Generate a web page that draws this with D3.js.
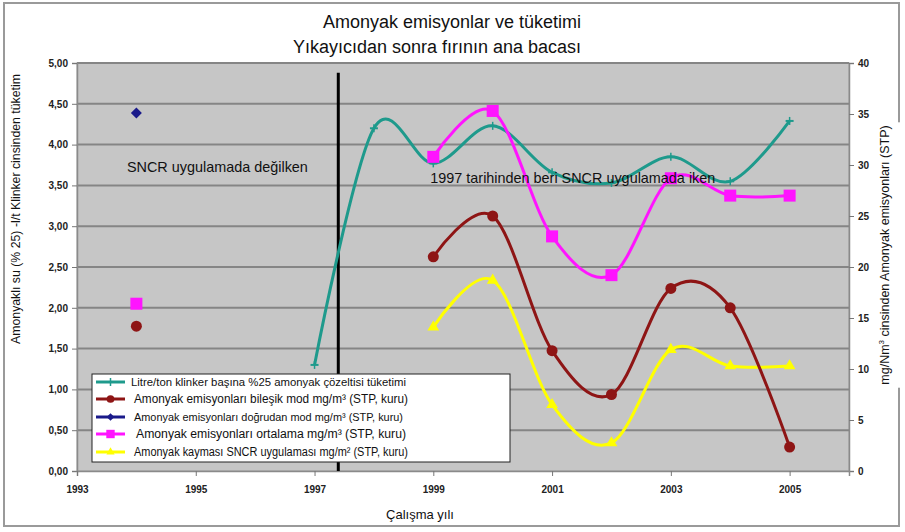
<!DOCTYPE html>
<html>
<head>
<meta charset="utf-8">
<script src="https://cdn.jsdelivr.net/npm/d3@7/dist/d3.min.js"></script>
<style>
  html, body { margin: 0; padding: 0; background: #fff; }
  svg { display: block; }
  text { font-family: "Liberation Sans", Arial, sans-serif; }
</style>
</head>
<body>
<svg id="chart" width="905" height="532"></svg>
<script>
// ---------- DATA ----------
const years = [1994, 1997, 1998, 1999, 2000, 2001, 2002, 2003, 2004, 2005];
// left axis (l/t klinker)
const tuketim   = [null, 1.30, 4.20, 3.77, 4.23, 3.66, 3.53, 3.85, 3.55, 4.29];
// right axis (mg/Nm3)
const bilesik   = [14.2, null, null, 21.0, 25.0, 11.8, 7.5, 17.9, 16.0, 2.35];
const dogrudan  = [35.1, null, null, null, null, null, null, null, null, null];
const ortalama  = [16.4, null, null, 30.8, 35.3, 23.0, 19.2, 28.7, 27.0, 27.0];
const kayma     = [null, null, null, 14.1, 18.7, 6.5, 2.75, 11.9, 10.3, 10.3];

const xTicks = [1993, 1995, 1997, 1999, 2001, 2003, 2005];
const leftTicks = [0, 0.5, 1, 1.5, 2, 2.5, 3, 3.5, 4, 4.5, 5];
const rightTicks = [0, 5, 10, 15, 20, 25, 30, 35, 40];

const seriesNames = [
  "Litre/ton klinker başına %25 amonyak çözeltisi tüketimi",
  "Amonyak emisyonları bileşik mod mg/m³ (STP, kuru)",
  "Amonyak emisyonları doğrudan mod mg/m³ (STP, kuru)",
  "Amonyak emisyonları ortalama mg/m³ (STP, kuru)",
  "Amonyak kayması SNCR uygulaması mg/m² (STP, kuru)"
];
const titleLines = ["Amonyak emisyonlar ve tüketimi", "Yıkayıcıdan sonra fırının ana bacası"];
const sncrYear = 1997.4, sncrTop = 4.88;

// ---------- LAYOUT ----------
const svg = d3.select("#chart");
const L = 77, R = 849, T = 63, B = 471;
const x = d3.scaleLinear().domain([1993, 2006]).range([L, R]);
const yL = d3.scaleLinear().domain([0, 5]).range([B, T]);
const yR = d3.scaleLinear().domain([0, 40]).range([B, T]);

const C = { teal: "#1e9a8c", red: "#8e1515", blue: "#1a1a8a", pink: "#ff14ff", yellow: "#ffff00" };

// outer frame
svg.append("rect").attr("x", 4).attr("y", 3).attr("width", 895).attr("height", 523)
  .attr("fill", "#fff").attr("stroke", "#9a9a9a").attr("stroke-width", 2);

// title
svg.append("text").attr("x", 452).attr("y", 28).attr("text-anchor", "middle")
  .attr("font-size", 18).attr("fill", "#111").text(titleLines[0]);
svg.append("text").attr("x", 437).attr("y", 53).attr("text-anchor", "middle")
  .attr("font-size", 18).attr("fill", "#111").text(titleLines[1]);

// plot area
svg.append("rect").attr("x", L).attr("y", T).attr("width", R - L).attr("height", B - T)
  .attr("fill", "#c6c6c6").attr("stroke", "#9c9c9c").attr("stroke-width", 1);

// gridlines
svg.append("g").selectAll("line").data(leftTicks.filter(d => d > 0)).join("line")
  .attr("x1", L).attr("x2", R).attr("y1", d => yL(d)).attr("y2", d => yL(d))
  .attr("stroke", "#858585").attr("stroke-width", 2);

// axes
const axL = svg.append("g").attr("transform", `translate(${L},0)`)
  .call(d3.axisLeft(yL).tickValues(leftTicks).tickSize(5).tickPadding(4)
    .tickFormat(d => d3.format(".2f")(d).replace(".", ",")));
const axR = svg.append("g").attr("transform", `translate(${R},0)`)
  .call(d3.axisRight(yR).tickValues(rightTicks).tickSize(5).tickPadding(4));
const axB = svg.append("g").attr("transform", `translate(0,${B})`)
  .call(d3.axisBottom(x).tickValues(xTicks).tickSize(5).tickPadding(10).tickFormat(d3.format("d")));
[axL, axR, axB].forEach(a => {
  a.select(".domain").attr("stroke", "#8a8a8a").attr("stroke-width", 1.5);
  a.selectAll(".tick line").attr("stroke", "#777");
  a.selectAll(".tick text").attr("font-size", 10).attr("font-weight", "bold").attr("fill", "#222")
    .attr("font-family", "Liberation Sans, Arial, sans-serif");
});

// axis titles
svg.append("text").attr("transform", `translate(20,209) rotate(-90)`).attr("text-anchor", "middle")
  .attr("font-size", 13).attr("fill", "#111")
  .attr("textLength", 270).attr("lengthAdjust", "spacingAndGlyphs")
  .text("Amonyaklı su (% 25) -l/t Klinker cinsinden tüketim");
const rtG = svg.append("g").attr("transform", `translate(889,255) rotate(-90)`);
const rt = rtG.append("text").attr("text-anchor", "middle").attr("font-size", 12.5).attr("fill", "#111")
  .attr("y", 0);
rt.append("tspan").text("mg/Nm");
rt.append("tspan").attr("font-size", 8).attr("dy", -5).text("3");
rt.append("tspan").attr("dy", 5).text(" cinsinden Amonyak emisyonları (STP)");
const bb = rt.node().getBBox();
rtG.insert("rect", "text").attr("x", bb.x - 3).attr("y", bb.y).attr("width", bb.width + 6)
  .attr("height", bb.height + 10).attr("fill", "#fff");
svg.append("text").attr("x", 420).attr("y", 519).attr("text-anchor", "middle")
  .attr("font-size", 13).attr("fill", "#111").text("Çalışma yılı");

// SNCR vertical line
svg.append("line").attr("x1", x(sncrYear)).attr("x2", x(sncrYear))
  .attr("y1", yL(sncrTop)).attr("y2", yL(0)).attr("stroke", "#000").attr("stroke-width", 3);

// annotations
svg.append("text").attr("x", x(1993.84)).attr("y", 172).attr("font-size", 15).attr("fill", "#111")
  .attr("textLength", 181).attr("lengthAdjust", "spacingAndGlyphs").text("SNCR uygulamada değilken");

// series lines
const mk = vals => years.map((yr, i) => ({ yr, v: vals[i] }));
const lineGen = scale => d3.line().defined(d => d.v != null)
  .x(d => x(d.yr)).y(d => scale(d.v)).curve(d3.curveCatmullRom.alpha(0));

const series = [
  { vals: tuketim, scale: yL, color: C.teal, marker: "cross" },
  { vals: bilesik, scale: yR, color: C.red, marker: "circle" },
  { vals: dogrudan, scale: yR, color: C.blue, marker: "diamond" },
  { vals: ortalama, scale: yR, color: C.pink, marker: "square" },
  { vals: kayma, scale: yR, color: C.yellow, marker: "triangle" }
];

function drawMarker(g, type, cx, cy, color, k = 1) {
  if (type === "circle") g.append("circle").attr("cx", cx).attr("cy", cy).attr("r", 5.5 * k).attr("fill", color);
  else if (type === "square") g.append("rect").attr("x", cx - 6 * k).attr("y", cy - 6 * k)
    .attr("width", 12 * k).attr("height", 12 * k).attr("fill", color);
  else if (type === "diamond") g.append("path")
    .attr("d", `M${cx},${cy - 5.5 * k}L${cx + 5.5 * k},${cy}L${cx},${cy + 5.5 * k}L${cx - 5.5 * k},${cy}Z`).attr("fill", color);
  else if (type === "triangle") g.append("path").attr("transform", `translate(${cx},${cy})`)
    .attr("d", d3.symbol(d3.symbolTriangle, 60 * k * k)()).attr("fill", color);
  else if (type === "cross") {
    g.append("line").attr("x1", cx - 4).attr("x2", cx + 4).attr("y1", cy).attr("y2", cy).attr("stroke", color).attr("stroke-width", 2);
    g.append("line").attr("x1", cx).attr("x2", cx).attr("y1", cy - 4).attr("y2", cy + 4).attr("stroke", color).attr("stroke-width", 1.5);
  }
}

const drawOrder = [4, 1, 0, 3, 2];
drawOrder.forEach(i => {
  const s = series[i];
  const data = mk(s.vals);
  const g = svg.append("g");
  g.append("path").datum(data).attr("d", lineGen(s.scale)).attr("fill", "none")
    .attr("stroke", s.color).attr("stroke-width", 3).attr("stroke-linejoin", "round");
  data.filter(d => d.v != null).forEach(d => drawMarker(g, s.marker, x(d.yr), s.scale(d.v), s.color));
});

svg.append("text").attr("x", x(1999.0) - 3).attr("y", 183).attr("font-size", 15).attr("fill", "#111")
  .attr("textLength", 285).attr("lengthAdjust", "spacingAndGlyphs").text("1997 tarihinden beri SNCR uygulamada iken");

// legend
const lg = svg.append("g");
lg.append("rect").attr("x", 92).attr("y", 374).attr("width", 418).attr("height", 88)
  .attr("fill", "#fff").attr("stroke", "#222").attr("stroke-width", 1);
const rowY = [382, 399, 417, 434, 452];
const fs = [11, 12.5, 11.5, 12.5, 12.5];
const tl = [275, 274, 269, 270, 274];
const tx = [131, 134, 134, 136, 134];
series.forEach((s, i) => {
  lg.append("line").attr("x1", 96).attr("x2", 125).attr("y1", rowY[i]).attr("y2", rowY[i])
    .attr("stroke", s.color).attr("stroke-width", 3);
  drawMarker(lg, s.marker, 110.5, rowY[i], s.color, 0.7);
  lg.append("text").attr("x", tx[i]).attr("y", rowY[i] + 4).attr("font-size", fs[i]).attr("fill", "#111")
    .attr("textLength", tl[i]).attr("lengthAdjust", "spacingAndGlyphs").text(seriesNames[i]);
});
</script>
</body>
</html>
